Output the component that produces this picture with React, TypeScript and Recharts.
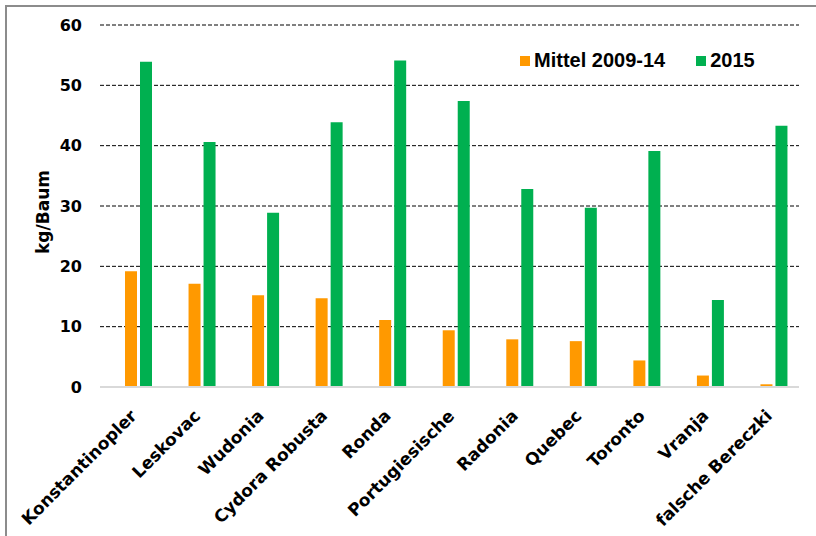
import React from 'react';
import { BarChart, Bar, XAxis, YAxis, CartesianGrid, Legend, Label } from 'recharts';

const sorten = [
  'Konstantinopler',
  'Leskovac',
  'Wudonia',
  'Cydora Robusta',
  'Ronda',
  'Portugiesische',
  'Radonia',
  'Quebec',
  'Toronto',
  'Vranja',
  'falsche Bereczki',
];
const mittel = [19.2, 17.1, 15.2, 14.7, 11.1, 9.4, 7.9, 7.6, 4.4, 1.9, 0.45];
const jahr2015 = [53.9, 40.6, 28.9, 43.9, 54.1, 47.4, 32.8, 29.7, 39.1, 14.4, 43.3];
const yTicks = [0, 10, 20, 30, 40, 50, 60];

const ORANGE = '#ff9900';
const GREEN = '#00b050';
const tickFont = '"DejaVu Sans", Arial, sans-serif';

const data = sorten.map((name, i) => ({ name, mittel: mittel[i], j2015: jahr2015[i] }));

function CatTick(props: any) {
  const { x, y, payload } = props;
  return (
    <g transform={`translate(${x - 1},${y + 22})`}>
      <text
        x={0}
        y={0}
        textAnchor="end"
        transform="rotate(-45)"
        fontFamily={tickFont}
        fontWeight="bold"
        fontSize={17}
        fill="#000"
      >
        {payload.value}
      </text>
    </g>
  );
}

function LegendBox() {
  const sq = (c: string, ml: number) => (
    <span style={{ display: 'inline-block', width: 10, height: 10, background: c, marginLeft: ml, marginRight: 4 }} />
  );
  return (
    <div
      style={{
        display: 'flex',
        alignItems: 'center',
        fontFamily: '"Liberation Sans", Arial, sans-serif',
        fontWeight: 'bold',
        fontSize: 20,
        color: '#000',
        whiteSpace: 'nowrap',
      }}
    >
      {sq(ORANGE, 0)}
      <span>Mittel 2009-14</span>
      {sq(GREEN, 31)}
      <span>2015</span>
    </div>
  );
}

export default function App() {
  return (
    <div style={{ position: 'absolute', left: 0, top: 0, width: 816, height: 536, background: '#fff' }}>
      <div
        style={{
          position: 'absolute',
          left: 5,
          top: 5,
          right: 0,
          bottom: 0,
          borderTop: '2px solid #8c8c8c',
          borderLeft: '2px solid #8c8c8c',
        }}
      />
      <div style={{ position: 'absolute', left: 0, top: 0 }}>
        <BarChart
          width={816}
          height={536}
          data={data}
          margin={{ top: 25, right: 17, left: 40, bottom: 119 }}
          barSize={12}
          barGap={3}
        >
          <CartesianGrid vertical={false} stroke="#000" strokeDasharray="4 2" />
          <XAxis
            dataKey="name"
            height={30}
            interval={0}
            tickLine={false}
            axisLine={{ stroke: '#d9d9d9', strokeWidth: 2 }}
            tick={<CatTick />}
            padding={{ left: 7, right: -7 }}
          />
          <YAxis
            width={60}
            domain={[0, 60]}
            ticks={yTicks}
            interval={0}
            axisLine={false}
            tickLine={false}
            tickMargin={12}
            tick={{ fontFamily: tickFont, fontWeight: 'bold', fontSize: 16, fill: '#000' }}
          >
            <Label
              value="kg/Baum"
              angle={-90}
              position="insideLeft"
              offset={0}
              dx={3}
              dy={6}
              style={{ fontFamily: tickFont, fontWeight: 'bold', fontSize: 17, fill: '#000', textAnchor: 'middle' }}
            />
          </YAxis>
          <Legend
            content={<LegendBox />}
            layout="horizontal"
            align="center"
            verticalAlign="middle"
            wrapperStyle={{ position: 'absolute', left: 520, top: 49, width: 'auto' }}
          />
          <Bar dataKey="mittel" name="Mittel 2009-14" fill={ORANGE} isAnimationActive={false} />
          <Bar dataKey="j2015" name="2015" fill={GREEN} isAnimationActive={false} />
        </BarChart>
      </div>
    </div>
  );
}
